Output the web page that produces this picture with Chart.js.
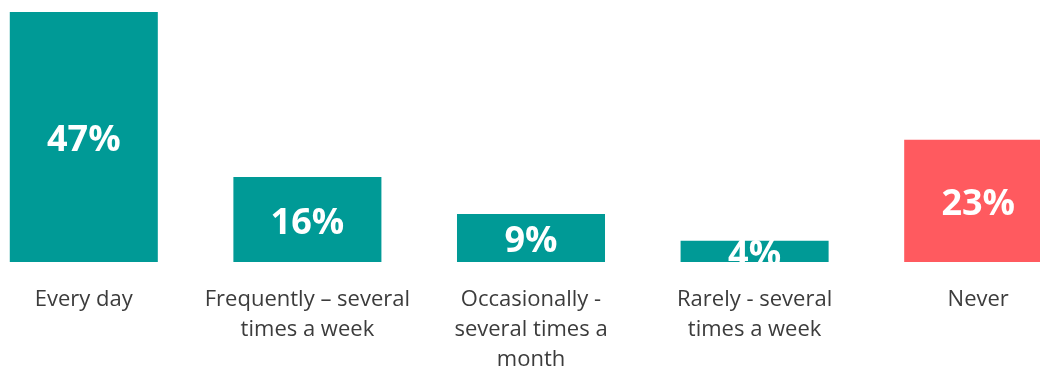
<!DOCTYPE html>
<html lang="en">
  <head>
    <meta charset="UTF-8" />
    <title>How often</title>
    <script src="https://cdn.jsdelivr.net/npm/chart.js"></script>
    <style>
      html, body { margin: 0; padding: 0; background: #fff; overflow: hidden; width: 1040px; height: 369px; }
      #wrap { position: absolute; left: -28px; top: 0; width: 1118px; height: 398px; }
    </style>
  </head>
  <body>
    <div id="wrap"><canvas id="freqChart"></canvas></div>

    <script>
      const categories = [
        "Every day",
        ["Frequently \u2013 several", "times a week"],
        ["Occasionally -", "several times a", "month"],
        ["Rarely - several", "times a week"],
        "Never",
      ];
      const shares = [47, 16, 9, 4, 23];
      const barColors = ["#009A96", "#009A96", "#009A96", "#009A96", "#FF5A5F"];

      // white percentage text in the middle of each bar
      const valueLabels = {
        id: "valueLabels",
        afterDatasetsDraw(chart) {
          const ctx = chart.ctx;
          const meta = chart.getDatasetMeta(0);
          ctx.save();
          ctx.fillStyle = "#ffffff";
          ctx.font = "bold 36px 'Open Sans', sans-serif";
          ctx.textAlign = "center";
          ctx.textBaseline = "middle";
          meta.data.forEach((bar, i) => {
            const mid = (bar.y + bar.base) / 2;
            ctx.fillText(shares[i] + "%", bar.x, mid + 4);
          });
          ctx.restore();
        },
      };

      new Chart(document.getElementById("freqChart"), {
        type: "bar",
        data: {
          labels: categories,
          datasets: [
            {
              data: shares,
              backgroundColor: barColors,
              barPercentage: 0.662,
              categoryPercentage: 1,
            },
          ],
        },
        options: {
          responsive: true,
          maintainAspectRatio: false,
          animation: false,
          layout: { padding: { top: 12, left: 0, right: 0, bottom: 0 } },
          plugins: { legend: { display: false }, tooltip: { enabled: false } },
          scales: {
            y: { display: false, min: 0, max: 47 },
            x: {
              grid: { display: false, drawTicks: false },
              border: { display: false },
              ticks: {
                color: "#3c3c3c",
                font: { family: "'Open Sans', sans-serif", size: 22, lineHeight: 1.364 },
                padding: 23,
                maxRotation: 0,
                autoSkip: false,
              },
            },
          },
        },
        plugins: [valueLabels],
      });
    </script>
  </body>
</html>
